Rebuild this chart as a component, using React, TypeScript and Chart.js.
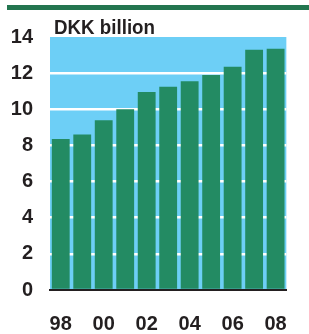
import React, { useEffect, useRef } from 'react';
import { Chart, registerables } from 'chart.js';

Chart.register(...registerables);

const categories = ['98', '99', '00', '01', '02', '03', '04', '05', '06', '07', '08'];
const revenue = [8.35, 8.6, 9.4, 10.0, 10.95, 11.25, 11.55, 11.9, 12.35, 13.3, 13.35];
const tickLabels = ['98', '', '00', '', '02', '', '04', '', '06', '', '08'];
const title = 'DKK billion';
const yMin = 0;
const yMax = 14;
const yStep = 2;

const TEXT = '#231f20';
const FONT_FAMILY = '"Liberation Sans", Arial, sans-serif';

export default function App() {
  const ref = useRef<HTMLCanvasElement>(null);

  useEffect(() => {
    if (!ref.current) return;
    const bg = {
      id: 'bg',
      beforeDraw(chart: any) {
        const { ctx, chartArea: a } = chart;
        ctx.save();
        ctx.fillStyle = '#6dcff6';
        ctx.fillRect(a.left, a.top, a.right - a.left, a.bottom - a.top);
        ctx.fillStyle = '#23754f';
        ctx.fillRect(7, 5, 302, 5);
        ctx.fillStyle = TEXT;
        ctx.font = 'bold 20px ' + FONT_FAMILY;
        ctx.textBaseline = 'alphabetic';
        ctx.textAlign = 'left';
        ctx.fillText(title, 54, 34, 101);
        ctx.restore();
      },
    };
    const chart = new Chart(ref.current, {
      type: 'bar',
      data: {
        labels: categories,
        datasets: [
          {
            data: revenue,
            backgroundColor: '#238b63',
            barPercentage: 0.83,
            categoryPercentage: 1,
          },
        ],
      },
      options: {
        animation: false,
        responsive: false,
        maintainAspectRatio: false,
        devicePixelRatio: 1,
        layout: { padding: { top: 37, right: 6, left: 0, bottom: 0 } },
        plugins: {
          legend: { display: false },
          tooltip: { enabled: false },
          title: { display: false },
        },
        scales: {
          x: {
            grid: { display: false, drawTicks: false },
            border: { display: true, color: TEXT, width: 2 },
            ticks: {
              autoSkip: false,
              maxRotation: 0,
              padding: 22,
              color: TEXT,
              font: { family: FONT_FAMILY, size: 20, weight: 'bold' },
              callback: (_v: any, i: number) => tickLabels[i],
            },
            afterFit(s: any) {
              s.height = 44;
            },
          },
          y: {
            min: yMin,
            max: yMax,
            ticks: {
              stepSize: yStep,
              padding: 17,
              color: TEXT,
              font: { family: FONT_FAMILY, size: 20, weight: 'bold' },
            },
            grid: {
              color: (c: any) =>
                c.tick && (c.tick.value === yMin || c.tick.value === yMax) ? 'rgba(0,0,0,0)' : '#ffffff',
              lineWidth: 2.5,
              drawTicks: false,
            },
            border: { display: false },
            afterFit(s: any) {
              s.width = 50;
            },
          },
        },
      },
      plugins: [bg],
    } as any);
    return () => chart.destroy();
  }, []);

  return (
    <div style={{ position: 'fixed', left: 0, top: 0, width: 309, height: 334 }}>
      <canvas ref={ref} width={309} height={334} style={{ display: 'block', width: 309, height: 334 }} />
    </div>
  );
}
